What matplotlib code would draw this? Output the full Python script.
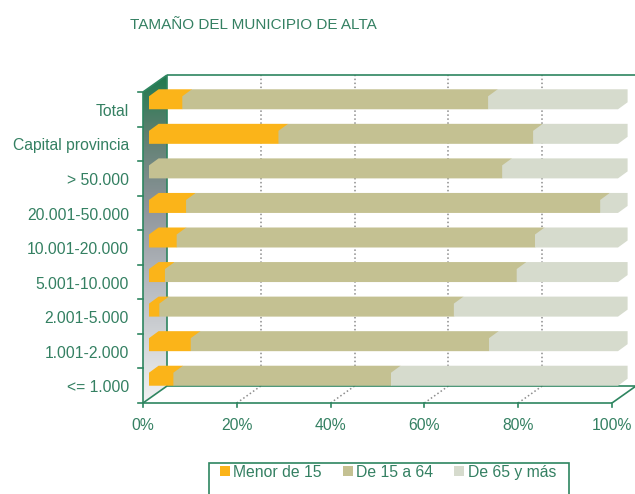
import numpy as np
import matplotlib.pyplot as plt
from matplotlib.patches import Polygon, Rectangle, Patch
from matplotlib.colors import LinearSegmentedColormap

plt.rcParams['font.family'] = ['Liberation Sans', 'DejaVu Sans']

# Datos: porcentaje de población por grupo de edad
categories = ['<= 1.000', '1.001-2.000', '2.001-5.000', '5.001-10.000',
              '10.001-20.000', '20.001-50.000', '> 50.000',
              'Capital provincia', 'Total']
menor15 = [5.2, 8.9, 2.2, 3.4, 5.9, 7.9, 0.0, 27.6, 7.1]
de15a64 = [46.4, 63.6, 62.8, 75.0, 76.4, 88.3, 75.3, 54.3, 65.2]
de65 = [48.4, 27.5, 35.0, 21.6, 17.7, 3.8, 24.7, 18.1, 27.7]
series_names = ['Menor de 15', 'De 15 a 64', 'De 65 y más']
xticks = [0, 20, 40, 60, 80, 100]
xticklabels = ['0%', '20%', '40%', '60%', '80%', '100%']

colors = ['#fbb419', '#c4c192', '#d6dbcd']
green = '#2e8560'
text_green = '#348062'
grid_grey = '#8c8c8c'
fs = 11.3

W, H = 635, 494
X0_PX, X100_PX = 143, 612     # frente del eje x
Y_TOP, Y_BOT = 92, 403         # frente del eje y
ppx = (X100_PX - X0_PX) / 100.0
ppy = (Y_BOT - Y_TOP) / float(len(categories))

# profundidad de la caja 3D (unidades de datos)
DX, DY = 24 / ppx, 17 / ppy
# barras: desplazamiento, grosor y profundidad
SX = 6 / ppx
BH = 13 / ppy
BX, BY = 9.6 / ppx, 7 / ppy

fig = plt.figure(figsize=(W / 100, H / 100), dpi=100)
ax = fig.add_axes([0, 0, 1, 1])
ax.set_xlim(-X0_PX / ppx, (W - X0_PX) / ppx)
ax.set_ylim(-0.5 - (H - Y_BOT) / ppy, -0.5 + Y_BOT / ppy)
ax.axis('off')

n = len(categories)
ylo, yhi = -0.5, n - 0.5

# pared lateral con degradado
wall_cmap = LinearSegmentedColormap.from_list(
    'wall', [(0, '#f1f2f3'), (0.35, '#b8bcc1'), (0.6, '#8d949a'),
             (0.82, '#5d7f70'), (1, '#1d7a4e')])
grad = np.linspace(0, 1, 256).reshape(-1, 1)
im = ax.imshow(grad, extent=(0, DX, ylo, yhi + DY), origin='lower',
               cmap=wall_cmap, aspect='auto', zorder=1, interpolation='bilinear')
wall = Polygon([(0, ylo), (0, yhi), (DX, yhi + DY), (DX, ylo + DY)],
               closed=True, facecolor='none', edgecolor='none')
ax.add_patch(wall)
im.set_clip_path(wall)

# rejilla punteada en la pared del fondo y en el suelo
for t in xticks[1:-1]:
    ax.plot([t + DX, t + DX], [ylo + DY, yhi + DY], color=grid_grey,
            lw=1.1, ls=(0, (1, 1.6)), zorder=2)
    ax.plot([t, t + DX], [ylo, ylo + DY], color=grid_grey,
            lw=1.1, ls=(0, (1, 1.6)), zorder=2)

# marco de la caja
frame = [
    ([0, 100], [ylo, ylo]),
    ([0, 0], [ylo, yhi]),
    ([0, DX], [ylo, ylo + DY]),
    ([0, DX], [yhi, yhi + DY]),
    ([DX, DX], [ylo + DY, yhi + DY]),
    ([DX, 100 + DX], [yhi + DY, yhi + DY]),
    ([100 + DX, 100 + DX], [ylo + DY, yhi + DY]),
    ([100, 100 + DX], [ylo, ylo + DY]),
    ([DX, 100 + DX], [ylo + DY, ylo + DY]),
]
for xs, ys in frame:
    ax.plot(xs, ys, color=green, lw=1.2, zorder=3, solid_capstyle='butt')

# marcas de los ejes
for k in range(n + 1):
    ax.plot([-5 / ppx, 0], [ylo + k, ylo + k], color=green, lw=1.2, zorder=3)
for t in xticks:
    ax.plot([t, t], [ylo, ylo - 4 / ppy], color=green, lw=1.2, zorder=3)

# barras apiladas con volumen
left = np.zeros(n)
for s, (vals, col) in enumerate(zip([menor15, de15a64, de65], colors)):
    for i, v in enumerate(vals):
        if v <= 0:
            continue
        a, b = left[i], left[i] + v
        pts = [(a + SX, i), (a + SX, i + BH), (a + SX + BX, i + BH + BY),
               (b + SX + BX, i + BH + BY), (b + SX + BX, i + BY), (b + SX, i)]
        ax.add_patch(Polygon(pts, closed=True, facecolor=col,
                             edgecolor='none', zorder=5 + s))
    left += np.array(vals)

# etiquetas
for i, lab in enumerate(categories):
    ax.text(-14 / ppx, i - 0.06, lab, ha='right', va='center',
            fontsize=fs, color=text_green)
for t, lab in zip(xticks, xticklabels):
    ax.text(t, ylo - 22.5 / ppy, lab, ha='center', va='center',
            fontsize=fs, color=text_green)

fig.text(130 / W, 1 - 25 / H, 'TAMAÑO DEL MUNICIPIO DE ALTA', ha='left',
         va='center', fontsize=11.0, color=text_green)

# leyenda
handles = [Patch(facecolor=c, edgecolor='none') for c in colors]
leg = ax.legend(handles, series_names, loc='center left',
                bbox_to_anchor=(220 / W, 1 - 472 / H),
                bbox_transform=fig.transFigure, ncol=3, frameon=False,
                handlelength=0.62, handleheight=0.62, handletextpad=0.22,
                columnspacing=1.35, borderpad=0, borderaxespad=0,
                fontsize=fs)
for txt in leg.get_texts():
    txt.set_color(text_green)
fig.add_artist(Rectangle((209 / W, -0.05), 360 / W, 0.05 + 31 / H,
                         transform=fig.transFigure, fill=False,
                         edgecolor=green, lw=1.2))

fig.savefig('out.png', dpi=100)
